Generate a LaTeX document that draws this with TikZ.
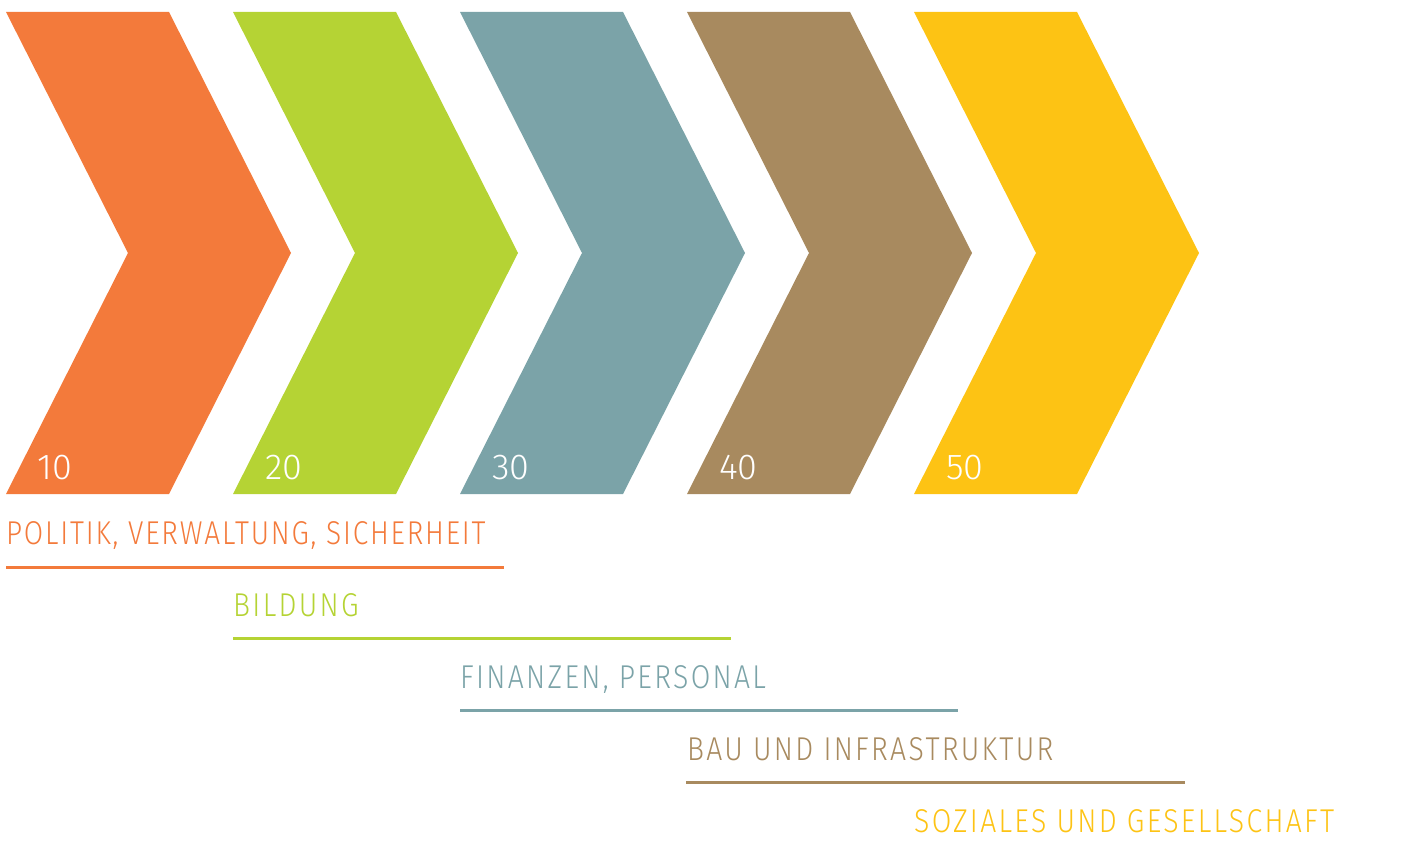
\documentclass[tikz,border=0pt]{standalone}
\usepackage{fontspec}
\setmainfont{Fira Sans Light}[LetterSpace=7,FakeStretch=0.86]
\newfontfamily\tightfont{Fira Sans Light}[LetterSpace=5.5,FakeStretch=0.85]
\newfontfamily\numfont{Fira Sans Light}
\definecolor{corange}{HTML}{F37A3B}
\definecolor{cgreen}{HTML}{B5D334}
\definecolor{cteal}{HTML}{7BA3A8}
\definecolor{cbrown}{HTML}{A88A5F}
\definecolor{cyellow}{HTML}{FDC314}
\begin{document}
\begin{tikzpicture}[x=1pt,y=-1pt,
  lbl/.style={anchor=base west,inner sep=0pt,font=\fontsize{33}{33}\selectfont},
  num/.style={anchor=base west,inner sep=0pt,text=white,font=\numfont\fontsize{36}{36}\selectfont},
  uline/.style={line width=3pt}]
\useasboundingbox (0,0) rectangle (1422,845);
\foreach \c/\i in {corange/0,cgreen/1,cteal/2,cbrown/3,cyellow/4}{
  \fill[\c] ({6+227*\i},12) -- ({169+227*\i},12) -- ({291+227*\i},253) -- ({169+227*\i},494) -- ({6+227*\i},494) -- ({128+227*\i},253) -- cycle;
}
\node[num] (n10) at (37,479) {10};
\node[num] (n20) at (265,479) {20};
\node[num] (n30) at (492,479) {30};
\node[num] (n40) at (719,479) {40};
\node[num] (n50) at (946,479) {50};
\node[lbl,text=corange,font=\tightfont\fontsize{33}{33}\selectfont] (l1) at (6,544) {POLITIK, VERWALTUNG, SICHERHEIT};
\node[lbl,text=cgreen] (l2) at (233,616) {BILDUNG};
\node[lbl,text=cteal] (l3) at (460,688) {FINANZEN, PERSONAL};
\node[lbl,text=cbrown] (l4) at (687,760) {BAU UND INFRASTRUKTUR};
\node[lbl,text=cyellow] (l5) at (914,832) {SOZIALES UND GESELLSCHAFT};
\draw[uline,corange] (6,567) -- (504,567);
\draw[uline,cgreen] (233,638) -- (731,638);
\draw[uline,cteal] (460,710) -- (958,710);
\draw[uline,cbrown] (686,782) -- (1185,782);
\end{tikzpicture}
\end{document}
